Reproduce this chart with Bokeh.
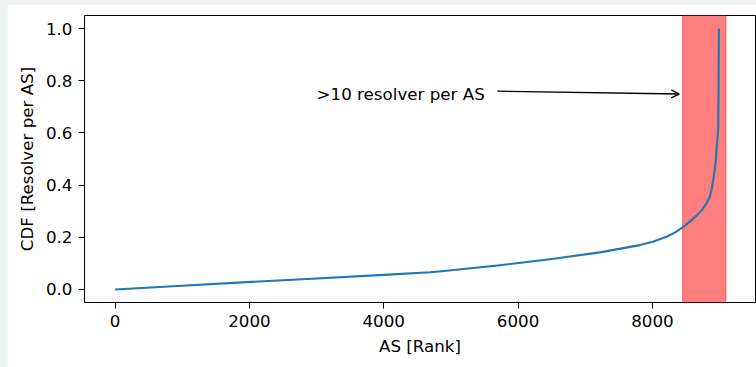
from bokeh.plotting import figure
from bokeh.models import BoxAnnotation, Label, Arrow, OpenHead, FixedTicker, PrintfTickFormatter
from bokeh.layouts import column
from bokeh.embed import file_html
from bokeh.resources import INLINE

as_rank = [0, 1000, 2025, 3000, 4000, 4691, 4900, 5732, 6476, 7219, 7814, 8007, 8211,
           8340, 8458, 8558, 8657, 8740, 8806, 8855, 8880, 8906, 8929, 8944, 8955,
           8967, 8979, 8985, 8990]
cdf = [0.0, 0.014, 0.029, 0.042, 0.056, 0.066, 0.071, 0.093, 0.116, 0.142, 0.170, 0.183, 0.202,
       0.219, 0.240, 0.260, 0.283, 0.305, 0.330, 0.355, 0.381, 0.419, 0.458, 0.496, 0.535,
       0.573, 0.612, 0.75, 1.0]

span_left, span_right = 8450, 9095
annot_text = ">10 resolver per AS"
annot_text_xy = (3000, 0.75)
arrow_start = (5690, 0.760)
arrow_end = (8400, 0.749)

x_ticks = [0, 2000, 4000, 6000, 8000]
y_ticks = [0.0, 0.2, 0.4, 0.6, 0.8, 1.0]

FONT = "DejaVu Sans"
FS = "16.7px"

p = figure(width=749, height=363, x_range=(-455, 9535), y_range=(-0.05, 1.05),
           output_backend="svg", toolbar_location=None,
           min_border_left=77, min_border_right=1, min_border_top=11, min_border_bottom=65,
           margin=(4, 0, 0, 7))
p.background_fill_color = "white"
p.border_fill_color = "white"
p.outline_line_color = "black"
p.outline_line_width = 1
p.xgrid.visible = False
p.ygrid.visible = False

span = BoxAnnotation(left=span_left, right=span_right, fill_color="red", fill_alpha=0.5,
                     line_color="red", line_alpha=0.5, line_width=1, level="underlay")
p.add_layout(span)

p.line(as_rank, cdf, line_color="#1f77b4", line_width=2.1, line_join="round")

p.add_layout(Label(x=annot_text_xy[0], y=annot_text_xy[1], text=annot_text,
                   text_font=FONT, text_font_size=FS, text_color="black",
                   text_align="left", text_baseline="alphabetic"))
p.add_layout(Arrow(x_start=arrow_start[0], y_start=arrow_start[1],
                   x_end=arrow_end[0], y_end=arrow_end[1],
                   line_color="black", line_width=1.4,
                   end=OpenHead(size=8, line_color="black", line_width=1.4)))

p.xaxis.ticker = FixedTicker(ticks=x_ticks)
p.yaxis.ticker = FixedTicker(ticks=y_ticks)
p.yaxis.formatter = PrintfTickFormatter(format="%.1f")
p.xaxis.axis_label = "AS [Rank]"
p.yaxis.axis_label = "CDF [Resolver per AS]"

for ax in (p.xaxis[0], p.yaxis[0]):
    ax.axis_line_color = None
    ax.major_tick_in = 0
    ax.major_tick_out = 6
    ax.major_tick_line_color = "black"
    ax.major_tick_line_width = 1
    ax.minor_tick_line_color = None
    ax.major_label_text_font = FONT
    ax.major_label_text_font_size = FS
    ax.major_label_text_color = "black"
    ax.axis_label_text_font = FONT
    ax.axis_label_text_font_size = FS
    ax.axis_label_text_font_style = "normal"
    ax.axis_label_text_color = "black"
    ax.major_label_standoff = 6
    ax.axis_label_standoff = 6

layout = column(p, width=756, height=367, styles={"background-color": "#eef2ee"})

open("out.html", "w").write(file_html(layout, INLINE))
